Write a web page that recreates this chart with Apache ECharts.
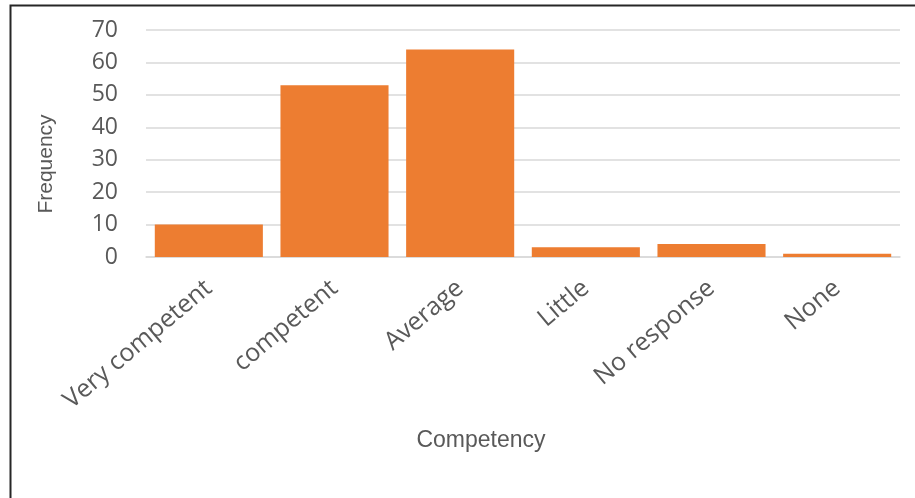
<!DOCTYPE html>
<html>
<head>
<meta charset="utf-8">
<style>
  html, body { margin: 0; padding: 0; background: #fff; }
  #chart { width: 915px; height: 498px; }
</style>
<script src="https://cdn.jsdelivr.net/npm/echarts@6/dist/echarts.min.js"></script>
</head>
<body>
<div id="chart"></div>
<script>
// Self-rated competency of respondents
const categories = ['Very competent', 'competent', 'Average', 'Little', 'No response', 'None'];
const frequency = [10, 53, 64, 3, 4, 1];
const yTicks = { min: 0, max: 70, interval: 10 };
const xTitle = 'Competency';
const yTitle = 'Frequency';

const chart = echarts.init(document.getElementById('chart'), null, { renderer: 'canvas' });

chart.setOption({
  animation: false,
  backgroundColor: '#ffffff',
  graphic: [
    {
      // frame around the chart area
      type: 'polyline',
      shape: { points: [[10.5, 498], [10.5, 5.5], [915, 5.5]] },
      style: { stroke: '#262626', lineWidth: 2, fill: null },
      silent: true
    },
    {
      type: 'text',
      x: 481, y: 441,
      style: {
        text: xTitle, fill: '#595959', fontSize: 23,
        fontFamily: 'Liberation Sans', align: 'center', verticalAlign: 'middle'
      },
      silent: true
    },
    {
      type: 'text',
      x: 46, y: 164,
      rotation: Math.PI / 2,
      style: {
        text: yTitle, fill: '#595959', fontSize: 21,
        fontFamily: 'Liberation Sans', align: 'center', verticalAlign: 'middle'
      },
      silent: true
    }
  ],
  grid: { left: 146, right: 15, top: 30, bottom: 241, containLabel: false },
  xAxis: {
    type: 'category',
    data: categories,
    axisLine: { show: true, lineStyle: { color: '#d9d9d9', width: 1.5 } },
    axisTick: { show: false },
    axisLabel: {
      rotate: 40,
      interval: 0,
      margin: 28,
      color: '#595959',
      fontSize: 25,
      fontFamily: 'Open Sans'
    }
  },
  yAxis: {
    type: 'value',
    min: yTicks.min,
    max: yTicks.max,
    interval: yTicks.interval,
    axisLine: { show: false },
    axisTick: { show: false },
    axisLabel: { color: '#595959', fontSize: 23, fontFamily: 'Open Sans', margin: 28 },
    splitLine: { lineStyle: { color: '#d9d9d9', width: 1.5 } }
  },
  series: [{
    type: 'bar',
    data: frequency,
    barCategoryGap: '14%',
    itemStyle: { color: '#ED7D31' }
  }]
});
</script>
</body>
</html>
